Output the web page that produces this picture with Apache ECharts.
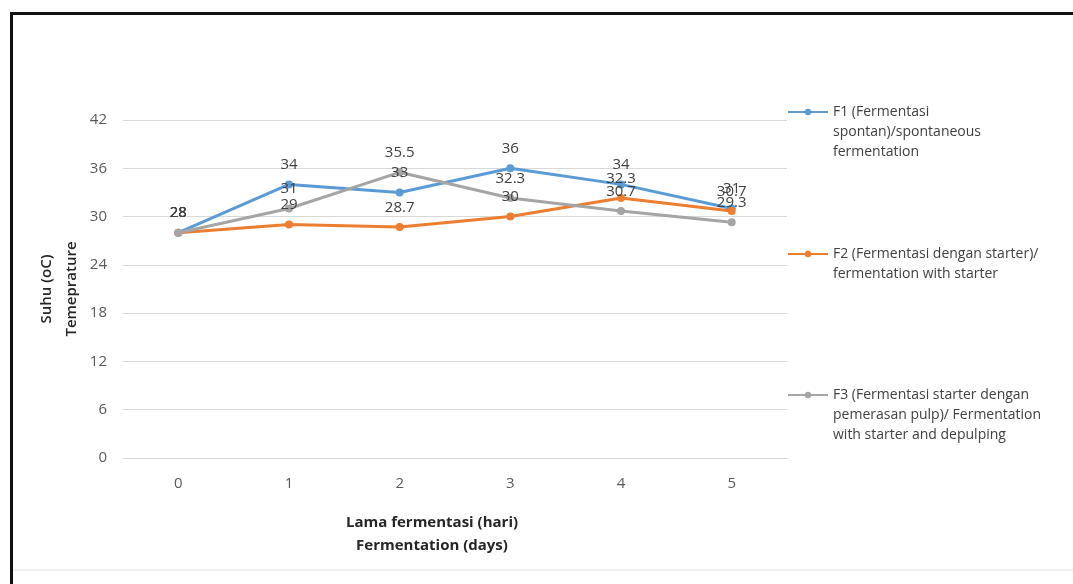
<!DOCTYPE html>
<html>
<head>
<meta charset="utf-8">
<script src="https://cdn.jsdelivr.net/npm/echarts@6/dist/echarts.min.js"></script>
<style>
html,body{margin:0;padding:0;background:#fff;}
#frame{position:absolute;left:10px;top:12px;width:1070px;height:580px;border-left:3px solid #111;border-top:3px solid #111;background:#fff;}
#chart{position:absolute;left:0;top:0;width:1073px;height:584px;}
</style>
</head>
<body>
<div id="frame"></div>
<div id="chart"></div>
<script>
var categories = ['0','1','2','3','4','5'];
var seriesNames = [
  'F1 (Fermentasi\nspontan)/spontaneous\nfermentation',
  'F2 (Fermentasi dengan starter)/\nfermentation with starter',
  'F3 (Fermentasi starter dengan\npemerasan pulp)/ Fermentation\nwith starter and depulping'
];
var f1 = [28, 34, 33, 36, 34, 31];
var f2 = [28, 29, 28.7, 30, 32.3, 30.7];
var f3 = [28, 31, 35.5, 32.3, 30.7, 29.3];
var colors = ['#5B9BD5', '#ED7D31', '#A5A5A5'];
var yMin = 0, yMax = 42, yInterval = 6;
var xTitle = 'Lama fermentasi (hari)\nFermentation (days)';
var yTitle = 'Suhu (oC)\nTemeprature';

var FONT = 'Open Sans';
var chart = echarts.init(document.getElementById('chart'));

function mkSeries(name, data, color) {
  return {
    name: name, type: 'line', data: data,
    symbol: 'circle', symbolSize: 8,
    lineStyle: {width: 3, color: color},
    itemStyle: {color: color},
    label: {show: true, position: 'top', distance: 8, color: '#404040', fontSize: 15, fontFamily: FONT},
    emphasis: {disabled: true},
    animation: false
  };
}
function mkLegend(name, top, pre) {
  return {
    data: [name], left: 787, top: top, padding: 0, orient: 'vertical',
    itemWidth: 40, itemHeight: 8, selectedMode: false,
    formatter: function (n) { return pre + n; },
    textStyle: {fontFamily: FONT, fontSize: 14, color: '#404040', lineHeight: 20}
  };
}

chart.setOption({
  backgroundColor: 'transparent',
  animation: false,
  grid: {left: 123, right: 286, top: 120, bottom: 126},
  legend: [
    mkLegend(seriesNames[0], 62, '\n\n'),
    mkLegend(seriesNames[1], 224, '\n'),
    mkLegend(seriesNames[2], 345, '\n\n')
  ],
  xAxis: {
    type: 'category', data: categories, boundaryGap: true,
    axisLine: {lineStyle: {color: '#D9D9D9', width: 1}},
    axisTick: {show: false},
    axisLabel: {color: '#595959', fontSize: 15, fontFamily: FONT, margin: 18},
    name: xTitle, nameLocation: 'middle', nameGap: 53,
    nameTextStyle: {color: '#262626', fontWeight: 'bold', fontSize: 15, fontFamily: FONT, lineHeight: 23, padding: [0, 46, 0, 0]}
  },
  yAxis: {
    type: 'value', min: yMin, max: yMax, interval: yInterval,
    axisLine: {show: false}, axisTick: {show: false},
    splitLine: {lineStyle: {color: '#D9D9D9', width: 1}},
    axisLabel: {color: '#595959', fontSize: 15, fontFamily: FONT, margin: 16},
    name: yTitle, nameLocation: 'middle', nameRotate: 90, nameGap: 39,
    nameMoveOverlap: false,
    nameTextStyle: {color: '#262626', fontWeight: 600, fontSize: 15, fontFamily: FONT, lineHeight: 25}
  },
  graphic: [{
    type: 'line', shape: {x1: 13, y1: 570, x2: 1073, y2: 570},
    style: {stroke: '#E3E3E3', lineWidth: 1}
  }],
  series: [
    mkSeries(seriesNames[0], f1, colors[0]),
    mkSeries(seriesNames[1], f2, colors[1]),
    mkSeries(seriesNames[2], f3, colors[2])
  ]
});
</script>
</body>
</html>
